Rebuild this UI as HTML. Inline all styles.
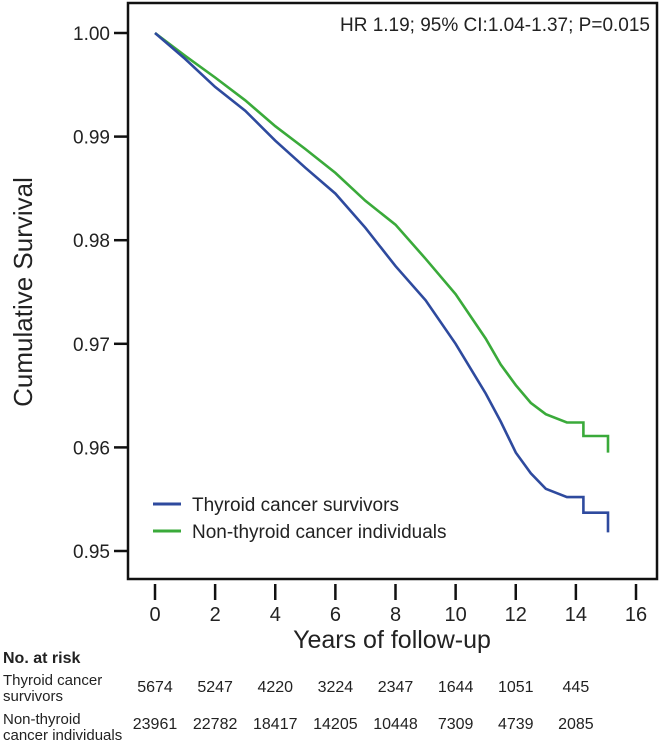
<!DOCTYPE html>
<html><head><meta charset="utf-8"><style>
html,body{margin:0;padding:0;background:#fff;}
svg{display:block;font-family:"Liberation Sans",Arial,sans-serif;}
</style></head><body>
<svg id="chart" width="661" height="744" viewBox="0 0 661 744">
<rect x="128" y="3" width="529" height="576" fill="none" stroke="#111" stroke-width="2.5"/>
<g id="yaxis"></g>
<g id="xaxis"></g>
<g id="series"></g>
<text x="32" y="292" transform="rotate(-90 32 292)" text-anchor="middle" font-size="26" fill="#222">Cumulative Survival</text>
<text x="392" y="648" text-anchor="middle" font-size="25" fill="#222">Years of follow-up</text>
<text x="650" y="31" text-anchor="end" font-size="19" fill="#222">HR 1.19; 95% CI:1.04-1.37; P=0.015</text>
<g>
<line x1="153" y1="504" x2="181" y2="504" stroke="#2e4a9e" stroke-width="3"/>
<text x="192" y="511" font-size="19" fill="#222">Thyroid cancer survivors</text>
<line x1="153" y1="531" x2="181" y2="531" stroke="#3aaa3a" stroke-width="3"/>
<text x="192" y="538" font-size="19" fill="#222">Non-thyroid cancer individuals</text>
</g>
<text x="3" y="663" font-size="16" font-weight="bold" fill="#222">No. at risk</text>
<text x="3" y="685" font-size="15" fill="#222"><tspan x="3">Thyroid cancer</tspan><tspan x="3" dy="16">survivors</tspan></text>
<text x="3" y="724" font-size="15" fill="#222"><tspan x="3">Non-thyroid</tspan><tspan x="3" dy="16">cancer individuals</tspan></text>
<g id="risk"></g>
</svg>
<script>
const yTicks = [1.00, 0.99, 0.98, 0.97, 0.96, 0.95];
const yTickLabels = ["1.00", "0.99", "0.98", "0.97", "0.96", "0.95"];
const xTicks = [0, 2, 4, 6, 8, 10, 12, 14, 16];
const blueT = [0,1,2,3,4,5,6,7,8,9,10,11,11.5,12,12.5,13,13.7,14.25,14.25,15.07,15.07];
const blueS = [1,0.9975,0.9948,0.9925,0.9896,0.9870,0.9845,0.9812,0.9775,0.9742,0.9700,0.9652,0.9625,0.9595,0.9575,0.9560,0.9552,0.9552,0.9537,0.9537,0.9518];
const greenT = [0,1,2,3,4,5,6,7,8,9,10,11,11.5,12,12.5,13,13.7,14.25,14.25,15.07,15.07];
const greenS = [1,0.9978,0.9957,0.9935,0.9910,0.9888,0.9865,0.9838,0.9815,0.9782,0.9748,0.9705,0.9680,0.9660,0.9643,0.9632,0.9624,0.9624,0.9611,0.9611,0.9595];
const riskTimes = [0,2,4,6,8,10,12,14];
const riskThyroid = [5674,5247,4220,3224,2347,1644,1051,445];
const riskNon = [23961,22782,18417,14205,10448,7309,4739,2085];

const NS = "http://www.w3.org/2000/svg";
const xs = t => 155 + t * (636 - 155) / 16;
const ys = v => 33 + (1 - v) * (551 - 33) / 0.05;
function mk(tag, attrs, parent){const e=document.createElementNS(NS,tag);for(const k in attrs)e.setAttribute(k,attrs[k]);parent.appendChild(e);return e;}

const ya = document.getElementById('yaxis');
yTicks.forEach((v,i)=>{
  const l = mk('line',{x1:114,x2:128,y1:ys(v),y2:ys(v),stroke:'#111','stroke-width':2.5},ya);
  
  
  const t = mk('text',{x:110,y:ys(v)+7,'text-anchor':'end','font-size':19,fill:'#222'},ya);
  t.textContent = yTickLabels[i];
  
  
});
const xa = document.getElementById('xaxis');
xTicks.forEach(v=>{
  const l = mk('line',{x1:xs(v),x2:xs(v),y1:584,y2:600,stroke:'#111','stroke-width':2.5},xa);
  
  
  const t = mk('text',{x:xs(v),y:621,'text-anchor':'middle','font-size':20,fill:'#222'},xa);
  t.textContent = String(v);
  
  
});
const sg = document.getElementById('series');
function drawLine(T,S,color,name){
  const d = T.map((t,i)=>(i?'L':'M')+xs(t).toFixed(1)+','+ys(S[i]).toFixed(1)).join(' ');
  const p = mk('path',{d:d,fill:'none',stroke:color,'stroke-width':2.6,'stroke-linejoin':'miter'},sg);
  
  
}
drawLine(greenT,greenS,'#3aaa3a','non-thyroid-curve');
drawLine(blueT,blueS,'#2e4a9e','thyroid-curve');
const rg = document.getElementById('risk');
riskTimes.forEach((t,i)=>{
  const a = mk('text',{x:xs(t),y:692,'text-anchor':'middle','font-size':16,fill:'#222'},rg);
  a.textContent = riskThyroid[i];
  
  
  const b = mk('text',{x:xs(t),y:729,'text-anchor':'middle','font-size':16,fill:'#222'},rg);
  b.textContent = riskNon[i];
  
  
});
</script>
</body></html>
